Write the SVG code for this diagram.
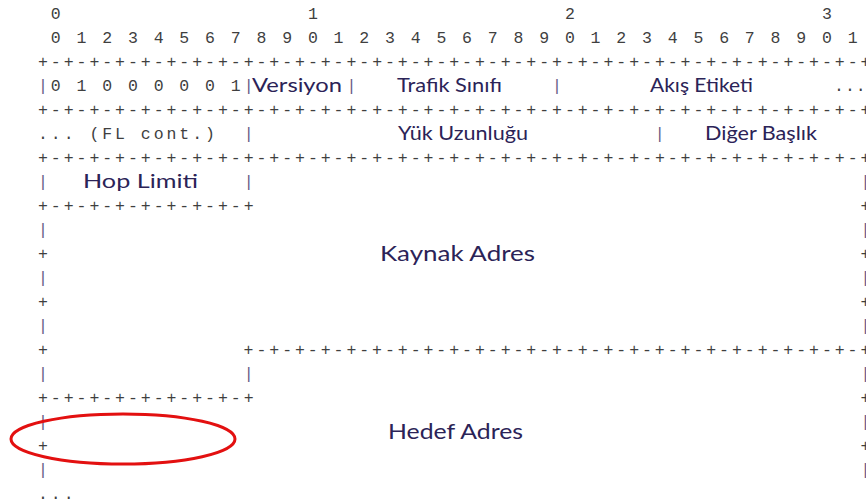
<svg xmlns="http://www.w3.org/2000/svg" width="866" height="504" viewBox="0 0 866 504">
  <style>
    /* monospace grid: one column = 12.85px, column k centred at 43 + 12.85k */
    .m { font-family: "Liberation Mono", "DejaVu Sans Mono", monospace; font-size: 16.5px; letter-spacing: 2.95px; fill: #3f3f3f; }
    .p { font-family: "Liberation Mono", "DejaVu Sans Mono", monospace; font-size: 16.5px; fill: #3f3f3f; text-anchor: middle; }
    .b { font-family: "Liberation Mono", "DejaVu Sans Mono", monospace; font-size: 16.5px; fill: #665a86; text-anchor: middle; }
    .l { font-family: "Lato", "Open Sans", "Liberation Sans", sans-serif; font-size: 19px; fill: #2b2357; text-anchor: middle; }
    .L { font-family: "Lato", "Open Sans", "Liberation Sans", sans-serif; font-size: 21.5px; fill: #2b2357; text-anchor: middle; }
    .mark { fill: none; stroke: #e31010; stroke-width: 3; }
  </style>

  <!-- bit ruler -->
  <g id="ruler">
    <text class="m" x="38" y="19" xml:space="preserve"> 0                   1                   2                   3</text>
    <text class="m" x="38" y="43" xml:space="preserve"> 0 1 2 3 4 5 6 7 8 9 0 1 2 3 4 5 6 7 8 9 0 1 2 3 4 5 6 7 8 9 0 1</text>
  </g>

  <!-- ASCII frame: separator rows -->
  <g id="frame">
    <text class="m" x="38" y="67">+-+-+-+-+-+-+-+-+-+-+-+-+-+-+-+-+-+-+-+-+-+-+-+-+-+-+-+-+-+-+-+-+</text>
    <text class="m" x="38" y="115">+-+-+-+-+-+-+-+-+-+-+-+-+-+-+-+-+-+-+-+-+-+-+-+-+-+-+-+-+-+-+-+-+</text>
    <text class="m" x="38" y="163">+-+-+-+-+-+-+-+-+-+-+-+-+-+-+-+-+-+-+-+-+-+-+-+-+-+-+-+-+-+-+-+-+</text>
    <text class="m" x="38" y="211">+-+-+-+-+-+-+-+-+</text>
    <text class="m" x="243.6" y="355">+-+-+-+-+-+-+-+-+-+-+-+-+-+-+-+-+-+-+-+-+-+-+-+-+</text>
    <text class="m" x="38" y="403">+-+-+-+-+-+-+-+-+</text>

    <!-- lone corner marks on the edges -->
    <text class="p" x="865.4" y="211">+</text>
    <text class="p" x="43" y="259">+</text>
    <text class="p" x="865.4" y="259">+</text>
    <text class="p" x="43" y="307">+</text>
    <text class="p" x="865.4" y="307">+</text>
    <text class="p" x="43" y="355">+</text>
    <text class="p" x="865.4" y="403">+</text>
    <text class="p" x="43" y="451">+</text>
    <text class="p" x="865.4" y="451">+</text>

    <!-- vertical bars -->
    <text class="b" x="43" y="91">|</text>
    <text class="b" x="248.6" y="91">|</text>
    <text class="b" x="351.4" y="91">|</text>
    <text class="b" x="557" y="91">|</text>
    <text class="b" x="248.6" y="139">|</text>
    <text class="b" x="659.8" y="139">|</text>
    <text class="b" x="43" y="187">|</text>
    <text class="b" x="248.6" y="187">|</text>
    <text class="b" x="865.4" y="187">|</text>
    <text class="b" x="43" y="235">|</text>
    <text class="b" x="865.4" y="235">|</text>
    <text class="b" x="43" y="283">|</text>
    <text class="b" x="865.4" y="283">|</text>
    <text class="b" x="43" y="331">|</text>
    <text class="b" x="865.4" y="331">|</text>
    <text class="b" x="43" y="379">|</text>
    <text class="b" x="248.6" y="379">|</text>
    <text class="b" x="865.4" y="379">|</text>
    <text class="b" x="43" y="427">|</text>
    <text class="b" x="865.4" y="427">|</text>
    <text class="b" x="43" y="475">|</text>
    <text class="b" x="865.4" y="475">|</text>

    <text class="m" x="38" y="499">...</text>
  </g>

  <!-- first word -->
  <g id="traffic-bits">
    <text class="m" x="50.85" y="91" xml:space="preserve">0 1 0 0 0 0 0 1</text>
  </g>
  <g id="version">
    <text class="l" x="297" y="92" textLength="90" lengthAdjust="spacingAndGlyphs">Versiyon</text>
  </g>
  <g id="traffic-class">
    <text class="l" x="449.5" y="92" textLength="105" lengthAdjust="spacingAndGlyphs">Trafik Sınıfı</text>
  </g>
  <g id="flow-label">
    <text class="l" x="701.5" y="92" textLength="103" lengthAdjust="spacingAndGlyphs">Akış Etiketi</text>
    <text class="m" x="834" y="91" style="letter-spacing:1px">...</text>
  </g>

  <!-- second word -->
  <g id="flow-label-cont">
    <text class="m" x="38" y="139">... (FL cont.)</text>
  </g>
  <g id="payload-length">
    <text class="l" x="463" y="140" textLength="130" lengthAdjust="spacingAndGlyphs">Yük Uzunluğu</text>
  </g>
  <g id="next-header">
    <text class="l" x="761" y="140" textLength="112" lengthAdjust="spacingAndGlyphs">Diğer Başlık</text>
  </g>

  <!-- third word -->
  <g id="hop-limit">
    <text class="l" x="140.5" y="188" textLength="115" lengthAdjust="spacingAndGlyphs">Hop Limiti</text>
  </g>

  <!-- addresses -->
  <g id="source-address">
    <text class="L" x="457.5" y="260.5" textLength="155" lengthAdjust="spacingAndGlyphs">Kaynak Adres</text>
  </g>
  <g id="destination-address">
    <text class="L" x="455.5" y="438.5" textLength="135" lengthAdjust="spacingAndGlyphs">Hedef Adres</text>
  </g>

  <!-- highlight -->
  <g id="highlight">
    <ellipse class="mark" cx="123" cy="439" rx="112" ry="25"/>
  </g>
</svg>
